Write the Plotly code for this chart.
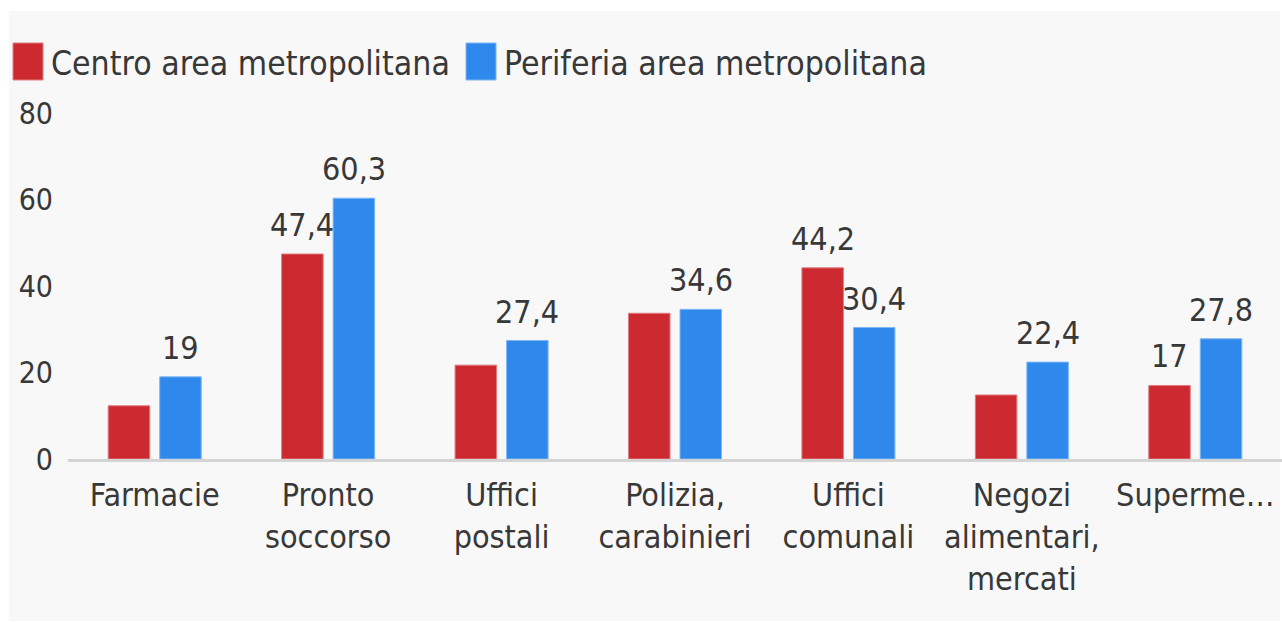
import plotly.graph_objects as go

# ---- data ----
categories = ["Farmacie", "Pronto soccorso", "Uffici postali", "Polizia, carabinieri",
              "Uffici comunali", "Negozi alimentari, mercati", "Supermercati"]
tick_labels = ["Farmacie", "Pronto<br>soccorso", "Uffici<br>postali", "Polizia,<br>carabinieri",
               "Uffici<br>comunali", "Negozi<br>alimentari,<br>mercati", "Superme…"]
series_names = ["Centro area metropolitana", "Periferia area metropolitana"]
centro = [12.3, 47.4, 21.7, 33.7, 44.2, 14.8, 17]
periferia = [19, 60.3, 27.4, 34.6, 30.4, 22.4, 27.8]
centro_label_shown = [False, True, False, False, True, False, True]
periferia_label_shown = [True, True, True, True, True, True, True]
y_ticks = [0, 20, 40, 60, 80]

COL_RED = "#CC2A30"
COL_BLUE = "#2F89EC"
TXT = "#383838"
FONT = "DejaVu Sans Condensed, DejaVu Sans, sans-serif"

W, H = 1282, 623
ML, MR, MT, MB = 68, 0, 113, 164
PW, PH = W - ML - MR, H - MT - MB
BARGAP, GROUPGAP = 0.406, 0.194
SLOT_PX = PW / len(categories) * (1 - BARGAP) / 2  # width of one bar slot in px


def fmt(v):
    return f"{v:g}".replace(".", ",")


def px_x(px):
    return (px - ML) / PW


def px_y(py):
    return (H - MB - py) / PH


fig = go.Figure()
fig.add_trace(go.Bar(
    x=categories, y=centro, name=series_names[0],
    marker=dict(color=COL_RED, line=dict(color="#e07c80", width=1)),
    showlegend=False, cliponaxis=False,
))
fig.add_trace(go.Bar(
    x=categories, y=periferia, name=series_names[1],
    marker=dict(color=COL_BLUE, line=dict(color="#7fb6f4", width=1)),
    showlegend=False, cliponaxis=False,
))

annotations = []
for values, shown, sign in ((centro, centro_label_shown, -1), (periferia, periferia_label_shown, 1)):
    for cat, v, s in zip(categories, values, shown):
        if not s:
            continue
        annotations.append(dict(
            x=cat, y=v, xref="x", yref="y", text=fmt(v), showarrow=False,
            xanchor="center", yanchor="bottom", xshift=sign * SLOT_PX / 2, yshift=8,
            font=dict(family=FONT, size=32, color=TXT),
        ))

shapes = [
    # panel background
    dict(type="rect", xref="paper", yref="paper", layer="below",
         x0=px_x(9), x1=px_x(1280), y0=px_y(621), y1=px_y(11),
         fillcolor="#f8f8f8", line=dict(width=0)),
    # legend swatches
    dict(type="rect", xref="paper", yref="paper",
         x0=px_x(13), x1=px_x(43), y0=px_y(80), y1=px_y(43),
         fillcolor=COL_RED, line=dict(width=1, color="#e07c80")),
    dict(type="rect", xref="paper", yref="paper",
         x0=px_x(466), x1=px_x(496), y0=px_y(80), y1=px_y(43),
         fillcolor=COL_BLUE, line=dict(width=1, color="#7fb6f4")),
]
annotations += [
    dict(text=series_names[0], xref="paper", yref="paper", x=px_x(49), y=px_y(64),
         xanchor="left", yanchor="middle", showarrow=False,
         font=dict(family=FONT, size=33.5, color=TXT)),
    dict(text=series_names[1], xref="paper", yref="paper", x=px_x(502), y=px_y(64),
         xanchor="left", yanchor="middle", showarrow=False,
         font=dict(family=FONT, size=33.5, color=TXT)),
]

fig.update_layout(
    width=W, height=H, autosize=False,
    margin=dict(l=ML, r=MR, t=MT, b=MB, pad=0),
    paper_bgcolor="white", plot_bgcolor="rgba(0,0,0,0)",
    barmode="group", bargap=BARGAP, bargroupgap=GROUPGAP,
    shapes=shapes, annotations=annotations,
    font=dict(family=FONT, color=TXT),
)
fig.update_xaxes(
    tickmode="array", tickvals=categories, ticktext=tick_labels,
    tickfont=dict(family=FONT, size=32, color=TXT),
    showline=True, linecolor="#d4d4d4", linewidth=3,
    showgrid=False, ticks="", ticklabelstandoff=6,
)
fig.update_yaxes(
    range=[0, 80], tickmode="array", tickvals=y_ticks,
    tickfont=dict(family=FONT, size=30, color=TXT),
    showgrid=False, zeroline=False, showline=False, ticks="",
    ticklabelstandoff=14,
)

fig.write_html(
    "out.html",
    config={"displayModeBar": False},
    post_script="document.body.style.margin='0px';document.body.style.overflow='hidden';",
)
